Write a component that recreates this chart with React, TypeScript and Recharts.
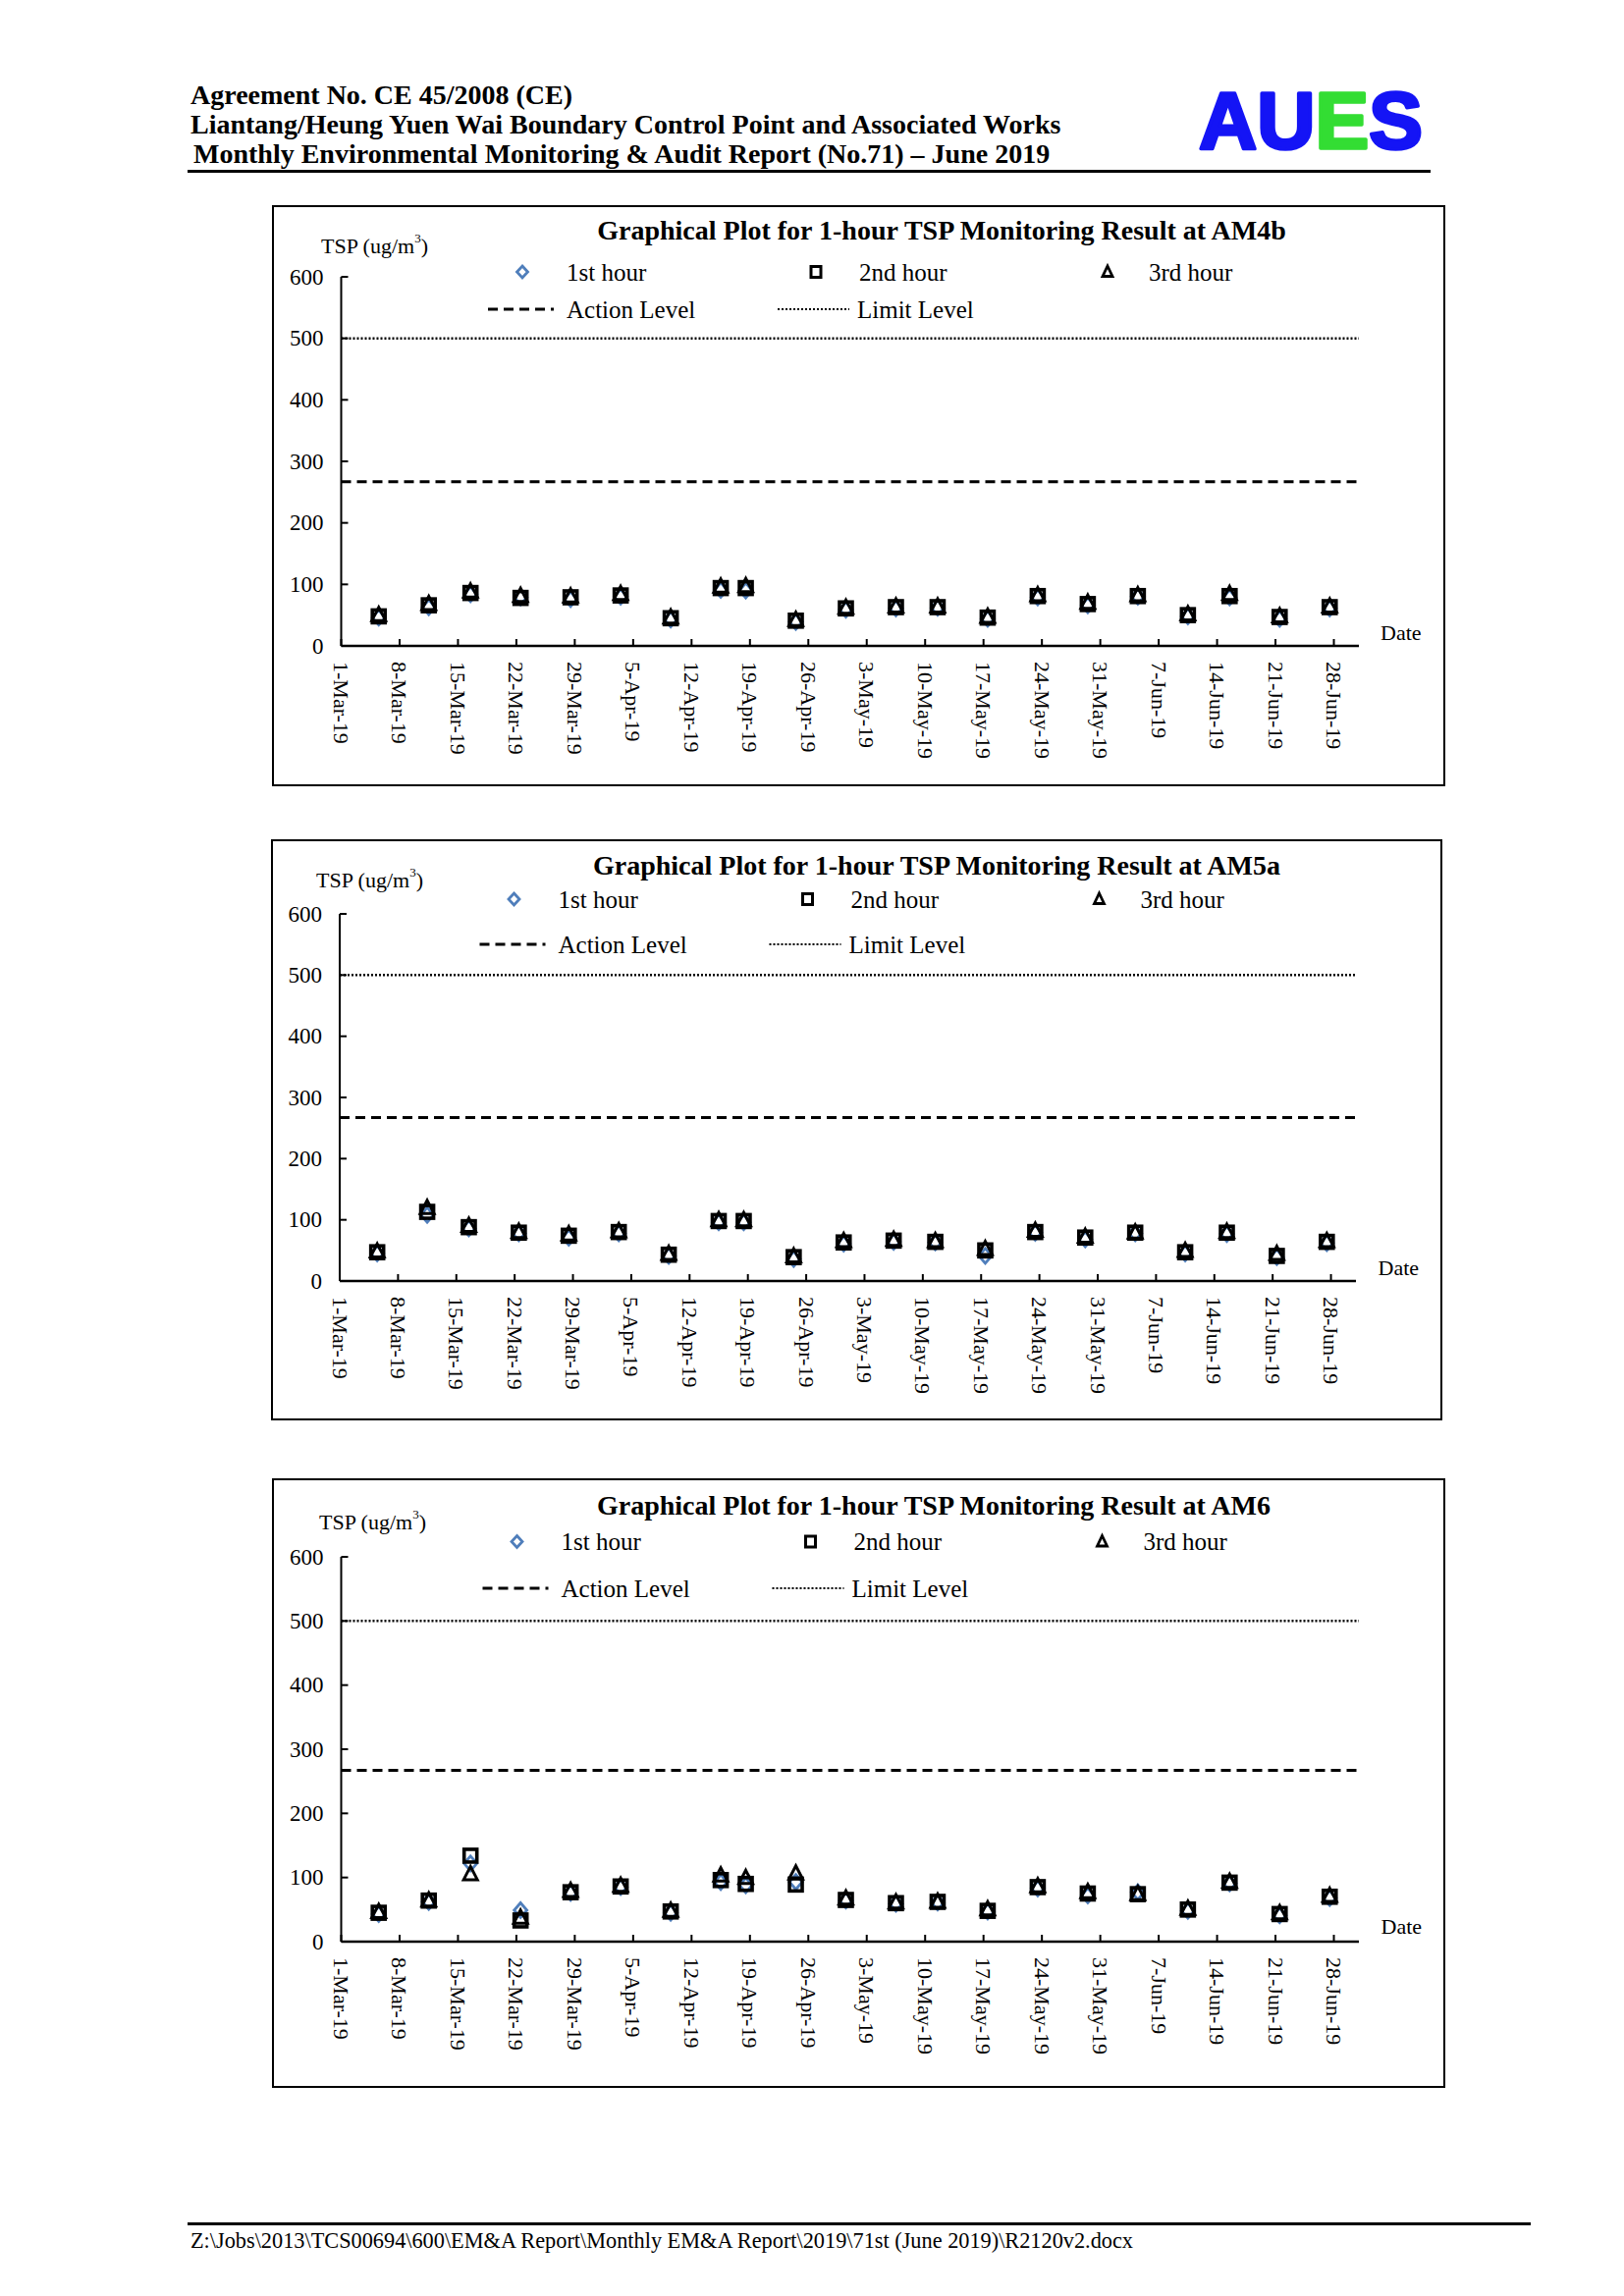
import React from "react";
import { ScatterChart, Scatter, XAxis, YAxis, ReferenceLine } from "recharts";

const SERIF = "'Liberation Serif', 'Times New Roman', serif";
const SANS = "'Liberation Sans', Arial, sans-serif";
const BLUE = "#4F7EBB";

// ---- data ----
const sampleDates = [
  "5-Mar-19", "11-Mar-19", "16-Mar-19", "22-Mar-19", "28-Mar-19", "3-Apr-19", "9-Apr-19",
  "15-Apr-19", "18-Apr-19", "24-Apr-19", "30-Apr-19", "6-May-19", "11-May-19", "17-May-19",
  "23-May-19", "29-May-19", "4-Jun-19", "10-Jun-19", "15-Jun-19", "21-Jun-19", "27-Jun-19",
];
const xTickLabels = [
  "1-Mar-19", "8-Mar-19", "15-Mar-19", "22-Mar-19", "29-Mar-19", "5-Apr-19", "12-Apr-19",
  "19-Apr-19", "26-Apr-19", "3-May-19", "10-May-19", "17-May-19", "24-May-19", "31-May-19",
  "7-Jun-19", "14-Jun-19", "21-Jun-19", "28-Jun-19",
];
const axisEndDate = "1-Jul-19";
const yTicks = [0, 100, 200, 300, 400, 500, 600];
const actionLevel = 267;
const limitLevel = 500;

const am4bHour1 = [46, 63, 84, 79, 76, 80, 43, 91, 90, 39, 59, 61, 62, 44, 79, 66, 80, 48, 79, 44, 61];
const am4bHour2 = [48, 66, 86, 78, 79, 82, 45, 94, 94, 41, 61, 63, 63, 46, 81, 68, 81, 50, 81, 47, 63];
const am4bHour3 = [50, 68, 88, 81, 80, 84, 46, 96, 97, 42, 62, 64, 64, 47, 82, 70, 82, 51, 84, 48, 64];

const am5aHour1 = [45, 108, 86, 78, 71, 78, 41, 96, 96, 36, 61, 64, 63, 41, 79, 68, 78, 45, 77, 39, 62];
const am5aHour2 = [47, 113, 88, 79, 74, 80, 43, 98, 98, 39, 63, 66, 64, 50, 80, 71, 79, 47, 79, 41, 64];
const am5aHour3 = [48, 119, 90, 80, 76, 81, 44, 99, 99, 40, 65, 67, 65, 52, 82, 72, 79, 49, 80, 44, 65];

const am6Hour1 = [43, 62, 122, 49, 76, 85, 45, 93, 88, 93, 64, 59, 61, 47, 83, 72, 77, 48, 91, 41, 68];
const am6Hour2 = [45, 64, 134, 33, 77, 86, 47, 96, 90, 89, 65, 60, 62, 48, 85, 75, 74, 50, 92, 43, 70];
const am6Hour3 = [46, 64, 105, 37, 79, 87, 48, 103, 99, 106, 67, 61, 62, 50, 86, 77, 74, 51, 93, 44, 71];

// ---- helpers ----
const MONTH_START: Record<string, number> = { Mar: 0, Apr: 31, May: 61, Jun: 92, Jul: 122 };
const dayOf = (s: string) => {
  const [d, m] = s.split("-");
  return MONTH_START[m] + Number(d) - 1;
};
const xTickValues = xTickLabels.map(dayOf);
const axisEnd = dayOf(axisEndDate);
const toPoints = (vals: number[]) => vals.map((v, i) => ({ x: dayOf(sampleDates[i]) + 0.5, y: v }));

const DiamondShape = (p: any) => {
  const { cx, cy } = p;
  if (cx == null || cy == null) return <g />;
  return <path d={`M${cx} ${cy - 7.5}L${cx + 6.5} ${cy}L${cx} ${cy + 7.5}L${cx - 6.5} ${cy}Z`} fill="none" stroke={BLUE} strokeWidth={2.8} />;
};
const SquareShape = (p: any) => {
  const { cx, cy } = p;
  if (cx == null || cy == null) return <g />;
  return <rect x={cx - 6.5} y={cy - 6.5} width={13} height={13} fill="none" stroke="#000" strokeWidth={3.6} />;
};
const TriangleShape = (p: any) => {
  const { cx, cy } = p;
  if (cx == null || cy == null) return <g />;
  return <path d={`M${cx} ${cy - 8}L${cx + 7} ${cy + 5.5}L${cx - 7} ${cy + 5.5}Z`} fill="none" stroke="#000" strokeWidth={3} />;
};

const XTick = (props: any) => {
  const { x, y, payload } = props;
  const idx = xTickValues.indexOf(payload.value);
  const label = idx >= 0 ? xTickLabels[idx] : "";
  const ty = y + 16;
  return (
    <g>
      <line x1={x} x2={x} y1={y} y2={y - 7} stroke="#000" strokeWidth={2} />
      <text x={x} y={ty} transform={`rotate(90 ${x} ${ty})`} textAnchor="start" dominantBaseline="central"
        fontFamily={SERIF} fontSize={22} fill="#000">{label}</text>
    </g>
  );
};
const YTick = (props: any) => {
  const { x, y, payload } = props;
  return (
    <g>
      <line x1={x} x2={x + 7} y1={y} y2={y} stroke="#000" strokeWidth={2} />
      <text x={x - 18} y={y} textAnchor="end" dominantBaseline="central" fontFamily={SERIF} fontSize={23} fill="#000">
        {payload.value}
      </text>
    </g>
  );
};

type Cfg = {
  left: number; top: number; width: number; height: number;
  plotLeft: number; plotTop: number; plotBottom: number; plotRight: number;
  title: string; titleX: number; titleY: number;
  tspX: number; tspY: number;
  legX: number; row1: number; row2: number;
  dateX: number; dateY: number;
  h1: number[]; h2: number[]; h3: number[];
};

function TspPanel({ c }: { c: Cfg }) {
  const yAxisW = 60;
  const xAxisH = 120;
  const margin = {
    top: c.plotTop,
    right: c.width - c.plotRight,
    left: c.plotLeft - yAxisW,
    bottom: c.height - c.plotBottom - xAxisH,
  };
  const L = c.legX;
  return (
    <div style={{ position: "absolute", left: c.left, top: c.top, width: c.width, height: c.height }}>
      <div style={{ position: "absolute", left: 0, top: 0, width: c.width, height: c.height, boxSizing: "border-box", border: "2px solid #000" }} />
      <div style={{ position: "absolute", left: 0, top: 0 }}>
        <ScatterChart width={c.width} height={c.height} margin={margin}>
          <XAxis type="number" dataKey="x" domain={[0, axisEnd]} ticks={xTickValues} interval={0}
            allowDataOverflow tick={XTick} tickLine={false} tickSize={0} tickMargin={0} height={xAxisH}
            axisLine={{ stroke: "#000", strokeWidth: 2.5 }} />
          <YAxis type="number" dataKey="y" domain={[0, 600]} ticks={yTicks} interval={0}
            allowDataOverflow tick={YTick} tickLine={false} tickSize={0} tickMargin={0} width={yAxisW}
            axisLine={{ stroke: "#000", strokeWidth: 2 }} />
          <ReferenceLine y={limitLevel} stroke="#000" strokeWidth={2.5} strokeDasharray="2 2" />
          <ReferenceLine y={actionLevel} stroke="#000" strokeWidth={3} strokeDasharray="10 6" />
          <Scatter name="1st hour" data={toPoints(c.h1)} shape={DiamondShape} isAnimationActive={false} />
          <Scatter name="2nd hour" data={toPoints(c.h2)} shape={SquareShape} isAnimationActive={false} />
          <Scatter name="3rd hour" data={toPoints(c.h3)} shape={TriangleShape} isAnimationActive={false} />
        </ScatterChart>
      </div>
      <svg width={c.width} height={c.height} style={{ position: "absolute", left: 0, top: 0, pointerEvents: "none" }}>
        <text x={c.titleX} y={c.titleY} textAnchor="middle" dominantBaseline="central" fontFamily={SERIF}
          fontWeight="bold" fontSize={28} fill="#000">{c.title}</text>
        <text x={c.tspX} y={c.tspY} dominantBaseline="central" fontFamily={SERIF} fontSize={22} fill="#000">
          TSP (ug/m<tspan dy={-8} fontSize={13}>3</tspan><tspan dy={8}>)</tspan>
        </text>
        {/* legend row 1 */}
        <path d={`M${L} ${c.row1 - 6}L${L + 5.5} ${c.row1}L${L} ${c.row1 + 6}L${L - 5.5} ${c.row1}Z`} fill="none" stroke={BLUE} strokeWidth={2.8} />
        <text x={L + 45} y={c.row1} dominantBaseline="central" fontFamily={SERIF} fontSize={25} fill="#000">1st hour</text>
        <rect x={L + 299 - 5} y={c.row1 - 5.5} width={10} height={11} fill="none" stroke="#000" strokeWidth={3} />
        <text x={L + 343} y={c.row1} dominantBaseline="central" fontFamily={SERIF} fontSize={25} fill="#000">2nd hour</text>
        <path d={`M${L + 596} ${c.row1 - 6}L${L + 601} ${c.row1 + 4.5}L${L + 591} ${c.row1 + 4.5}Z`} fill="none" stroke="#000" strokeWidth={2.8} />
        <text x={L + 638} y={c.row1} dominantBaseline="central" fontFamily={SERIF} fontSize={25} fill="#000">3rd hour</text>
        {/* legend row 2 */}
        <line x1={L - 35} x2={L + 32} y1={c.row2} y2={c.row2} stroke="#000" strokeWidth={3} strokeDasharray="10 6" />
        <text x={L + 45} y={c.row2} dominantBaseline="central" fontFamily={SERIF} fontSize={25} fill="#000">Action Level</text>
        <line x1={L + 260} x2={L + 333} y1={c.row2} y2={c.row2} stroke="#000" strokeWidth={2.2} strokeDasharray="2 2" />
        <text x={L + 341} y={c.row2} dominantBaseline="central" fontFamily={SERIF} fontSize={25} fill="#000">Limit Level</text>
        <text x={c.dateX} y={c.dateY} dominantBaseline="central" fontFamily={SERIF} fontSize={22} fill="#000">Date</text>
      </svg>
    </div>
  );
}

const panels: Cfg[] = [
  {
    left: 277, top: 209, width: 1195, height: 592,
    plotLeft: 70.5, plotTop: 73, plotBottom: 449, plotRight: 1107,
    title: "Graphical Plot for 1-hour TSP Monitoring Result at AM4b", titleX: 682, titleY: 25,
    tspX: 50, tspY: 41, legX: 255, row1: 68, row2: 106, dateX: 1129, dateY: 435,
    h1: am4bHour1, h2: am4bHour2, h3: am4bHour3,
  },
  {
    left: 276, top: 855, width: 1193, height: 592,
    plotLeft: 70, plotTop: 76, plotBottom: 450, plotRight: 1105,
    title: "Graphical Plot for 1-hour TSP Monitoring Result at AM5a", titleX: 678, titleY: 26.5,
    tspX: 46, tspY: 41, legX: 247.5, row1: 61, row2: 107, dateX: 1127.5, dateY: 436.6,
    h1: am5aHour1, h2: am5aHour2, h3: am5aHour3,
  },
  {
    left: 277, top: 1506, width: 1195, height: 621,
    plotLeft: 70.5, plotTop: 80, plotBottom: 472, plotRight: 1107,
    title: "Graphical Plot for 1-hour TSP Monitoring Result at AM6", titleX: 674, titleY: 27,
    tspX: 48, tspY: 44, legX: 249.5, row1: 64.5, row2: 112, dateX: 1129.5, dateY: 456.8,
    h1: am6Hour1, h2: am6Hour2, h3: am6Hour3,
  },
];

export default function App() {
  return (
    <div style={{ position: "absolute", left: 0, top: 0, width: 1654, height: 2339, background: "#fff", overflow: "hidden" }}>
      <svg width={1654} height={2339} style={{ position: "absolute", left: 0, top: 0 }}>
        <text x={194} y={106} fontFamily={SERIF} fontWeight="bold" fontSize={28} fill="#000">Agreement No. CE 45/2008 (CE)</text>
        <text x={194} y={136} fontFamily={SERIF} fontWeight="bold" fontSize={28} fill="#000">Liantang/Heung Yuen Wai Boundary Control Point and Associated Works</text>
        <text x={197} y={166} fontFamily={SERIF} fontWeight="bold" fontSize={28} fill="#000">Monthly Environmental Monitoring &amp; Audit Report (No.71) – June 2019</text>
        <rect x={191} y={173} width={1266} height={3} fill="#000" />
        <text x={1221} y={151} fontFamily={SANS} fontWeight="bold" fontSize={82} strokeWidth={3.5} strokeLinejoin="round">
          <tspan fill="#1414F5" stroke="#1414F5">AU</tspan><tspan fill="#33DD33" stroke="#33DD33">E</tspan><tspan fill="#1414F5" stroke="#1414F5">S</tspan>
        </text>
        <rect x={191} y={2264} width={1368} height={3} fill="#000" />
        <text x={194} y={2290} fontFamily={SERIF} fontSize={22.3} fill="#000">
          Z:\Jobs\2013\TCS00694\600\EM&amp;A Report\Monthly EM&amp;A Report\2019\71st (June 2019)\R2120v2.docx
        </text>
      </svg>
      {panels.map((c, i) => <TspPanel key={i} c={c} />)}
    </div>
  );
}
